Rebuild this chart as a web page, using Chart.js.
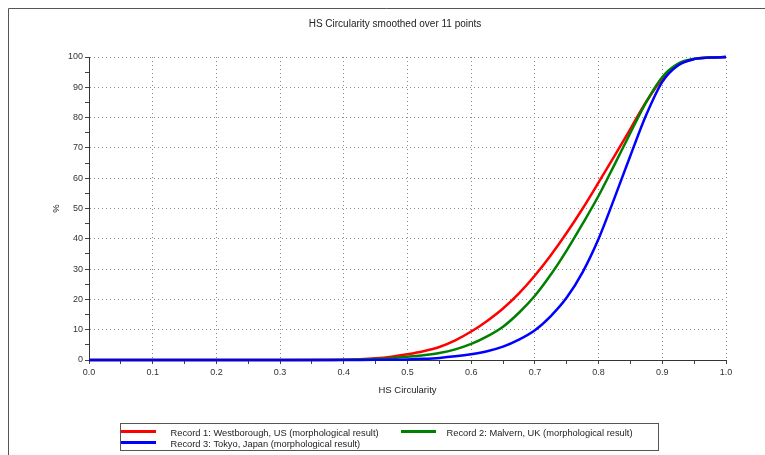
<!DOCTYPE html>
<html>
<head>
<meta charset="utf-8">
<script src="https://cdn.jsdelivr.net/npm/chart.js@4.4.1/dist/chart.umd.min.js"></script>
<style>
  html, body { margin: 0; padding: 0; background: #fff; }
  canvas { display: block; }
</style>
</head>
<body>
<canvas id="chart" width="765" height="455"></canvas>
<script>
// chart values
const chartTitle = 'HS Circularity smoothed over 11 points';
const xTitle = 'HS Circularity';
const yTitle = '%';
const seriesNames = [
  'Record 1: Westborough, US (morphological result)',
  'Record 2: Malvern, UK (morphological result)',
  'Record 3: Tokyo, Japan (morphological result)'
];
const circularity = [0, 0.1, 0.2, 0.3, 0.4, 0.425, 0.45, 0.475, 0.5, 0.525, 0.55, 0.575, 0.6, 0.625, 0.65, 0.675,
                     0.7, 0.725, 0.75, 0.775, 0.8, 0.825, 0.85, 0.875, 0.9, 0.925, 0.95, 0.975, 1.0];
const westborough = [0, 0, 0, 0, 0.1, 0.25, 0.55, 1.1, 1.9, 2.9, 4.3, 6.5, 9.4, 12.9, 17.0, 22.0,
                     27.9, 34.6, 42.0, 50.0, 58.6, 67.4, 76.3, 85.3, 92.8, 97.4, 99.3, 99.8, 100];
const malvern     = [0, 0, 0, 0, 0.05, 0.15, 0.3, 0.6, 1.1, 1.6, 2.3, 3.5, 5.3, 7.8, 11.0, 15.6,
                     21.2, 28.2, 36.2, 45.0, 54.2, 64.5, 75.0, 85.2, 93.4, 97.8, 99.4, 99.8, 100];
const tokyo       = [0, 0, 0, 0, 0, 0.02, 0.05, 0.1, 0.2, 0.4, 0.7, 1.2, 1.9, 2.9, 4.4, 6.7,
                     9.8, 14.5, 20.6, 29.0, 40.0, 53.5, 67.5, 81.0, 91.8, 97.3, 99.3, 99.8, 100];
const xTicksMajor = 0.1;
const yTicksMajor = 10;

const colors = ['#ff0000', '#008000', '#0000ff'];
const textColor = '#333';
const family = '"Liberation Sans", Arial, sans-serif';
const tickFont = { family: family, size: 9 };
const axisFont = { family: family, size: 9.5 };

function points(ys) {
  return circularity.map((x, i) => ({ x: x, y: ys[i] }));
}

function isMajor(value, step) {
  const r = value / step;
  return Math.abs(r - Math.round(r)) < 1e-6;
}

// frame, title and the boxed legend are drawn by hand to match the original
const decorations = {
  id: 'decorations',
  afterDraw(chart) {
    const ctx = chart.ctx;
    ctx.save();
    ctx.strokeStyle = '#555';
    ctx.lineWidth = 1;
    ctx.beginPath();
    ctx.moveTo(8.5, 455);
    ctx.lineTo(8.5, 8.5);
    ctx.lineTo(765, 8.5);
    ctx.stroke();

    ctx.font = '10px ' + family;
    ctx.fillStyle = '#222';
    ctx.textAlign = 'center';
    ctx.textBaseline = 'middle';
    ctx.fillText(chartTitle, 395, 24);

    // legend box
    ctx.strokeStyle = '#555';
    ctx.strokeRect(120.5, 423.5, 538, 27);
    const slots = [
      { lx: 121, tx: 170.5, y: 431.5, ty: 433 },
      { lx: 401, tx: 446.5, y: 431.5, ty: 433 },
      { lx: 121, tx: 170.5, y: 442.5, ty: 444 }
    ];
    ctx.font = '9.3px ' + family;
    ctx.textAlign = 'left';
    chart.data.datasets.forEach((ds, i) => {
      const s = slots[i];
      ctx.strokeStyle = ds.borderColor;
      ctx.lineWidth = 3;
      ctx.beginPath();
      ctx.moveTo(s.lx, s.y);
      ctx.lineTo(s.lx + 35, s.y);
      ctx.stroke();
      ctx.fillStyle = '#222';
      ctx.fillText(ds.label, s.tx, s.ty);
    });
    ctx.restore();
  }
};

const datasets = [westborough, malvern, tokyo].map((ys, i) => ({
  label: seriesNames[i],
  data: points(ys),
  borderColor: colors[i],
  backgroundColor: colors[i],
  borderWidth: 2.5,
  pointRadius: 0,
  cubicInterpolationMode: 'monotone',
  clip: false,
  order: 2 - i
}));

new Chart(document.getElementById('chart'), {
  type: 'line',
  data: { datasets: datasets },
  options: {
    responsive: false,
    animation: false,
    devicePixelRatio: 1,
    layout: { padding: { top: 57, right: 39, bottom: 0, left: 0 } },
    plugins: { legend: { display: false }, title: { display: false }, tooltip: { enabled: false } },
    scales: {
      x: {
        type: 'linear',
        min: 0,
        max: 1,
        afterFit(scale) { scale.height = 95; },
        ticks: {
          stepSize: xTicksMajor / 2,
          autoSkip: false,
          maxRotation: 0,
          padding: 3,
          color: textColor,
          font: tickFont,
          callback: v => isMajor(v, xTicksMajor) ? v.toFixed(1) : ''
        },
        grid: {
          color: c => (c.tick && isMajor(c.tick.value, xTicksMajor) && c.tick.value > 0) ? '#8a8a8a' : 'rgba(0,0,0,0)',
          tickColor: '#444',
          tickLength: 4,
          tickBorderDash: []
        },
        border: { color: '#333', width: 1, dash: [1, 3] },
        title: { display: true, text: xTitle, color: '#222', font: axisFont, padding: { top: 0, bottom: 59 } }
      },
      y: {
        min: 0,
        max: 100,
        afterFit(scale) { scale.width = 89; },
        ticks: {
          stepSize: yTicksMajor / 2,
          autoSkip: false,
          padding: 2,
          color: textColor,
          font: tickFont,
          callback: v => isMajor(v, yTicksMajor) ? String(v) : ''
        },
        grid: {
          color: c => (c.tick && isMajor(c.tick.value, yTicksMajor) && c.tick.value > 0) ? '#8a8a8a' : 'rgba(0,0,0,0)',
          tickColor: '#444',
          tickLength: 4,
          tickBorderDash: []
        },
        border: { color: '#333', width: 1, dash: [1, 3] },
        title: { display: true, text: yTitle, color: '#222', font: axisFont, padding: { top: 51, bottom: 0 } }
      }
    }
  },
  plugins: [decorations]
});
</script>
</body>
</html>
